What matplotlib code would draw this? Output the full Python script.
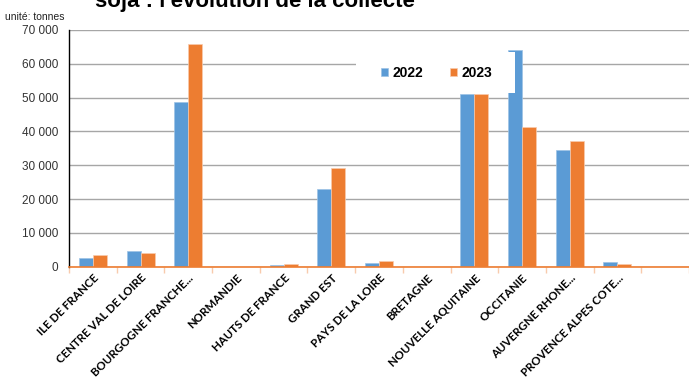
import numpy as np
import matplotlib
matplotlib.use("Agg")
import matplotlib.pyplot as plt
from matplotlib.patches import Rectangle
from matplotlib.ticker import FuncFormatter, MultipleLocator

regions = ["ILE DE FRANCE", "CENTRE VAL DE LOIRE", "BOURGOGNE FRANCHE...", "NORMANDIE",
           "HAUTS DE FRANCE", "GRAND EST", "PAYS DE LA LOIRE", "BRETAGNE",
           "NOUVELLE AQUITAINE", "OCCITANIE", "AUVERGNE RHONE...", "PROVENCE ALPES COTE...", ""]
collecte_2022 = [2600, 4500, 48700, 0, 400, 23000, 1000, 0, 51000, 64100, 34400, 1300, 0]
collecte_2023 = [3500, 4000, 65800, 0, 900, 29300, 1600, 0, 51000, 41400, 37200, 800, 0]

bleu = "#5B9BD5"
orange = "#ED7D31"

fig = plt.figure(figsize=(6.89, 3.79), dpi=100)
ax = fig.add_axes([69 / 689, 1 - 266.7 / 379, 620 / 689, 236.7 / 379])

x = np.arange(len(regions))
w = 0.294
ax.bar(x - w / 2, collecte_2022, w, color=bleu, edgecolor="#9dc3e6", linewidth=0.5,
       label="2022", zorder=2)
ax.bar(x + w / 2, collecte_2023, w, color=orange, edgecolor="#f8cbad", linewidth=0.5,
       label="2023", zorder=2)

ax.set_xlim(-0.5, len(regions) - 0.5)
ax.set_ylim(0, 70000)
ax.yaxis.set_major_locator(MultipleLocator(10000))
ax.yaxis.set_major_formatter(FuncFormatter(lambda v, p: f"{int(v):,}".replace(",", " ")))
ax.grid(axis="y", color="#a6a6a6", linewidth=1, zorder=0)
ax.set_axisbelow(True)

for s in ["top", "right"]:
    ax.spines[s].set_visible(False)
ax.spines["left"].set_color("black")
ax.spines["left"].set_linewidth(1)
ax.spines["bottom"].set_color(orange)
ax.spines["bottom"].set_linewidth(1.2)
ax.spines["bottom"].set_zorder(3)

ax.tick_params(axis="y", length=0, labelsize=8.5, labelcolor="#333333", pad=7.5)
for t in ax.get_yticklabels():
    t.set_fontfamily("Liberation Sans")

ax.set_xticks(x)
ax.set_xticklabels(regions, rotation=45, ha="right", rotation_mode="anchor",
                   fontsize=8.3, fontweight="bold", fontfamily="Lato")
ax.tick_params(axis="x", which="major", length=0, pad=4)
ax.set_xticks(np.arange(-0.5, len(regions) + 0.5, 1), minor=True)
ax.tick_params(axis="x", which="minor", length=4, color="#f8cbad", width=1)

# fond blanc de la légende (masque une partie des barres comme dans l'original)
ax.add_patch(Rectangle((0.463, 0.734), 0.256, 0.171, transform=ax.transAxes,
                       facecolor="white", edgecolor="none", zorder=4, clip_on=False))
leg = ax.legend(loc="center left", bbox_to_anchor=(0.503, 0.818), ncol=2, frameon=False,
                handlelength=0.55, handleheight=0.55, handletextpad=0.3, columnspacing=1.9,
                borderpad=0, borderaxespad=0,
                prop={"family": "Liberation Sans", "weight": "bold", "size": 10})
leg.set_zorder(5)

fig.text(5 / 689, 1 - 20 / 379, "unité: tonnes", fontsize=7.5, fontfamily="Liberation Sans",
         color="#222222", va="baseline")
fig.text(255 / 689, 1 - 7 / 379, "soja : l'évolution de la collecte", fontsize=16,
         fontweight="bold", fontfamily="Liberation Sans", ha="center", va="baseline")

fig.savefig("out.png", dpi=100)
